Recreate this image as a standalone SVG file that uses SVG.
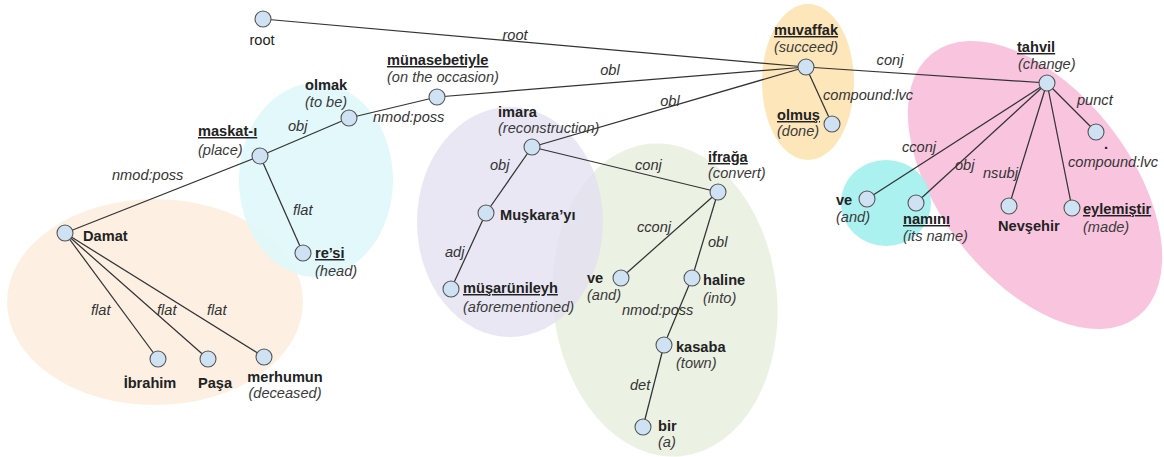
<svg xmlns="http://www.w3.org/2000/svg" width="1164" height="457" viewBox="0 0 1164 457">
<style>
text{font-family:"Liberation Sans",Arial,sans-serif;font-size:14.6px}
.b{font-weight:bold;fill:#222}
.u{text-decoration:underline}
.i{font-style:italic;fill:#3a3a3a}
.r{fill:#222}
.e{font-style:italic;fill:#333}
.n{fill:#cfe2f3;stroke:#555;stroke-width:1.1}
.c line{stroke:#333;stroke-width:1.25}
</style>
<rect width="1164" height="457" fill="#fff"/>
<g id="groups">
<ellipse cx="155" cy="302" rx="148" ry="103" fill="#fdf0e3"/>
<ellipse cx="316" cy="180" rx="77" ry="97" fill="#dff7fa" opacity="0.9"/>
<ellipse cx="665" cy="300" rx="112" ry="157" transform="rotate(-6 665 300)" fill="#e9f0e0" opacity="0.9"/>
<ellipse cx="510" cy="222" rx="93" ry="115" fill="#e4e1f0" opacity="0.8"/>
<ellipse cx="808" cy="82" rx="46" ry="78" fill="#fde7ba"/>
<ellipse cx="1035" cy="185" rx="167" ry="95" transform="rotate(52 1035 185)" fill="#f9c5de"/>
<ellipse cx="886" cy="203" rx="45" ry="43" fill="#a6f0ef" opacity="0.95"/>
</g>
<g id="connectors" class="c">
<line x1="263" y1="19" x2="806" y2="67"/>
<line x1="437" y1="97" x2="806" y2="67"/>
<line x1="532" y1="147" x2="806" y2="67"/>
<line x1="806" y1="67" x2="1047" y2="83"/>
<line x1="806" y1="67" x2="832" y2="124"/>
<line x1="1047" y1="83" x2="1096" y2="132"/>
<line x1="1047" y1="83" x2="1072" y2="208"/>
<line x1="1047" y1="83" x2="1009" y2="206"/>
<line x1="1047" y1="83" x2="916" y2="203"/>
<line x1="1047" y1="83" x2="867" y2="199"/>
<line x1="437" y1="97" x2="349" y2="118"/>
<line x1="349" y1="118" x2="260" y2="156"/>
<line x1="260" y1="156" x2="65" y2="233"/>
<line x1="260" y1="156" x2="303" y2="253"/>
<line x1="65" y1="233" x2="158" y2="359"/>
<line x1="65" y1="233" x2="208" y2="359"/>
<line x1="65" y1="233" x2="264" y2="357"/>
<line x1="532" y1="147" x2="486" y2="213"/>
<line x1="486" y1="213" x2="451" y2="289"/>
<line x1="532" y1="147" x2="718" y2="192"/>
<line x1="718" y1="192" x2="621" y2="278"/>
<line x1="718" y1="192" x2="692" y2="278"/>
<line x1="692" y1="278" x2="664" y2="345"/>
<line x1="664" y1="345" x2="643" y2="427"/>
<text class="e" x="515" y="40" text-anchor="middle">root</text>
<text class="e" x="610" y="75" text-anchor="middle">obl</text>
<text class="e" x="670" y="106" text-anchor="middle">obl</text>
<text class="e" x="890" y="65" text-anchor="middle">conj</text>
<text class="e" x="823" y="100">compound:lvc</text>
<text class="e" x="1077" y="105">punct</text>
<text class="e" x="1068" y="167">compound:lvc</text>
<text class="e" x="983" y="178">nsubj</text>
<text class="e" x="955" y="170">obj</text>
<text class="e" x="902" y="152">cconj</text>
<text class="e" x="373" y="122">nmod:poss</text>
<text class="e" x="288" y="131">obj</text>
<text class="e" x="112" y="180">nmod:poss</text>
<text class="e" x="293" y="215">flat</text>
<text class="e" x="91" y="315">flat</text>
<text class="e" x="157" y="315">flat</text>
<text class="e" x="207" y="315">flat</text>
<text class="e" x="490" y="170">obj</text>
<text class="e" x="445" y="257">adj</text>
<text class="e" x="635" y="170">conj</text>
<text class="e" x="637" y="232">cconj</text>
<text class="e" x="708" y="247">obl</text>
<text class="e" x="622" y="315">nmod:poss</text>
<text class="e" x="630" y="390">det</text>
</g>
<g id="n-root"><circle class="n" cx="263" cy="19" r="8"/><text class="r" x="262" y="45" text-anchor="middle" font-size="15.5">root</text></g>
<g id="n-muvaffak"><circle class="n" cx="806" cy="67" r="8"/><text class="b u" x="806" y="35" text-anchor="middle">muvaffak</text><text class="i" x="806" y="52" text-anchor="middle">(succeed)</text></g>
<g id="n-olmus"><circle class="n" cx="832" cy="124" r="8"/><text class="b u" x="777" y="120">olmuş</text><text class="i" x="777" y="136">(done)</text></g>
<g id="n-tahvil"><circle class="n" cx="1047" cy="83" r="8"/><text class="b u" x="1017" y="52">tahvil</text><text class="i" x="1018" y="69">(change)</text></g>
<g id="n-punct"><circle class="n" cx="1096" cy="132" r="8"/><text class="b" x="1104" y="149">.</text></g>
<g id="n-ve2"><circle class="n" cx="867" cy="199" r="8"/><text class="b" x="836" y="205">ve</text><text class="i" x="836" y="222">(and)</text></g>
<g id="n-namini"><circle class="n" cx="916" cy="203" r="8"/><text class="b u" x="903" y="224">namını</text><text class="i" x="903" y="241">(its name)</text></g>
<g id="n-nevsehir"><circle class="n" cx="1009" cy="206" r="8"/><text class="b" x="998" y="231">Nevşehir</text></g>
<g id="n-eylemistir"><circle class="n" cx="1072" cy="208" r="8"/><text class="b u" x="1083" y="214">eylemiştir</text><text class="i" x="1083" y="232">(made)</text></g>
<g id="n-munasebetiyle"><circle class="n" cx="437" cy="97" r="8"/><text class="b u" x="387" y="65">münasebetiyle</text><text class="i" x="387" y="82">(on the occasion)</text></g>
<g id="n-olmak"><circle class="n" cx="349" cy="118" r="8"/><text class="b" x="305" y="90">olmak</text><text class="i" x="305" y="107">(to be)</text></g>
<g id="n-maskati"><circle class="n" cx="260" cy="156" r="8"/><text class="b u" x="198" y="136">maskat-ı</text><text class="i" x="198" y="155">(place)</text></g>
<g id="n-damat"><circle class="n" cx="65" cy="233" r="8"/><text class="b" x="83" y="241">Damat</text></g>
<g id="n-resi"><circle class="n" cx="303" cy="253" r="8"/><text class="b u" x="315" y="258">re’si</text><text class="i" x="315" y="276">(head)</text></g>
<g id="n-ibrahim"><circle class="n" cx="158" cy="359" r="8"/><text class="b" x="150" y="388" text-anchor="middle">İbrahim</text></g>
<g id="n-pasa"><circle class="n" cx="208" cy="359" r="8"/><text class="b" x="215" y="388" text-anchor="middle">Paşa</text></g>
<g id="n-merhumun"><circle class="n" cx="264" cy="357" r="8"/><text class="b" x="285" y="382" text-anchor="middle">merhumun</text><text class="i" x="285" y="398" text-anchor="middle">(deceased)</text></g>
<g id="n-imara"><circle class="n" cx="532" cy="147" r="8"/><text class="b" x="498" y="117">imara</text><text class="i" x="498" y="133">(reconstruction)</text></g>
<g id="n-ifraga"><circle class="n" cx="718" cy="192" r="8"/><text class="b u" x="708" y="162">ifrağa</text><text class="i" x="708" y="178">(convert)</text></g>
<g id="n-muskarayi"><circle class="n" cx="486" cy="213" r="8"/><text class="b" x="500" y="220">Muşkara’yı</text></g>
<g id="n-musarunileyh"><circle class="n" cx="451" cy="289" r="8"/><text class="b u" x="463" y="293">müşarünileyh</text><text class="i" x="463" y="312">(aforementioned)</text></g>
<g id="n-ve1"><circle class="n" cx="621" cy="278" r="8"/><text class="b" x="587" y="283">ve</text><text class="i" x="587" y="300">(and)</text></g>
<g id="n-haline"><circle class="n" cx="692" cy="278" r="8"/><text class="b" x="703" y="285">haline</text><text class="i" x="703" y="303">(into)</text></g>
<g id="n-kasaba"><circle class="n" cx="664" cy="345" r="8"/><text class="b" x="676" y="352">kasaba</text><text class="i" x="676" y="368">(town)</text></g>
<g id="n-bir"><circle class="n" cx="643" cy="427" r="8"/><text class="b" x="658" y="431">bir</text><text class="i" x="658" y="447">(a)</text></g>
</svg>
